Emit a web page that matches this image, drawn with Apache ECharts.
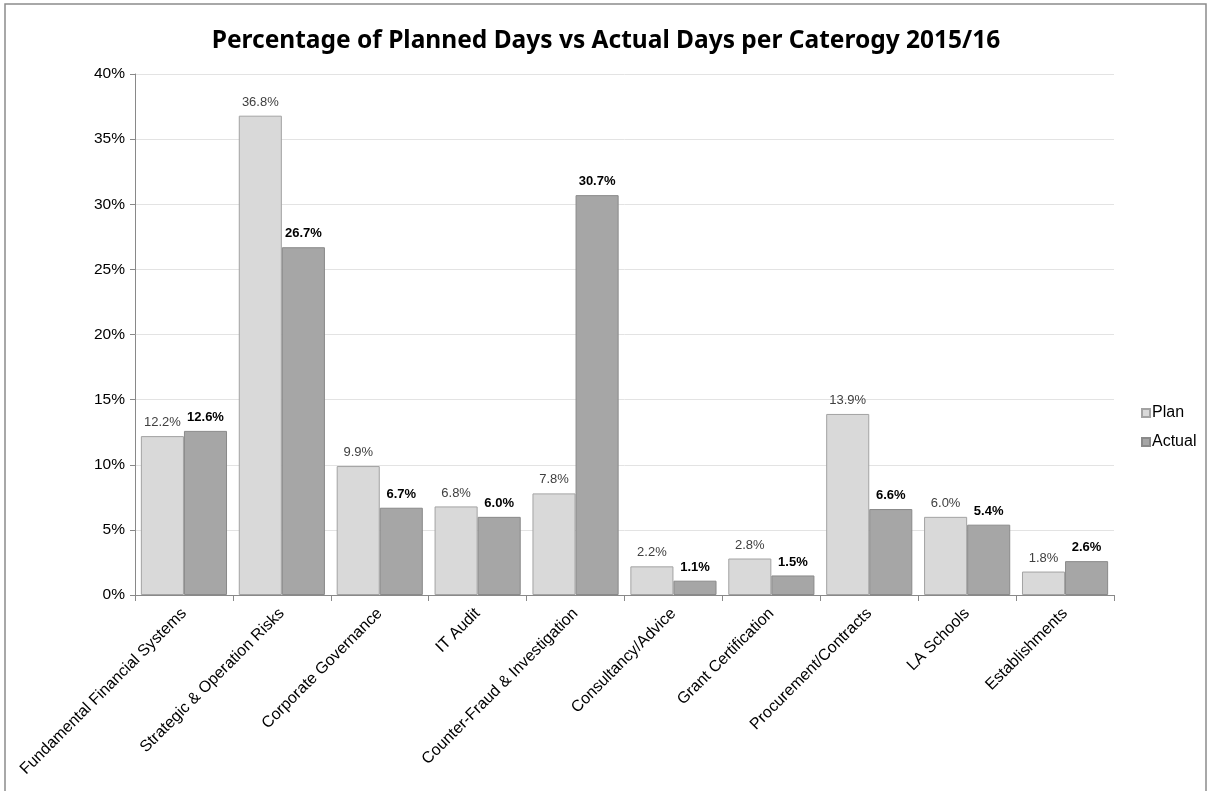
<!DOCTYPE html>
<html>
<head>
<meta charset="utf-8">
<script src="https://cdn.jsdelivr.net/npm/echarts@6/dist/echarts.min.js"></script>
<style>
  html, body { margin: 0; padding: 0; background: #fff; }
  #chartDiv { width: 1212px; height: 791px; }
</style>
</head>
<body>
<div id="chartDiv"></div>
<script type="text/javascript">
  // categories and values
  var categories = [
    "Fundamental Financial Systems",
    "Strategic & Operation Risks",
    "Corporate Governance",
    "IT Audit",
    "Counter-Fraud & Investigation",
    "Consultancy/Advice",
    "Grant Certification",
    "Procurement/Contracts",
    "LA Schools",
    "Establishments"
  ];
  var planValues = [12.2, 36.8, 9.9, 6.8, 7.8, 2.2, 2.8, 13.9, 6.0, 1.8];
  var actualValues = [12.6, 26.7, 6.7, 6.0, 30.7, 1.1, 1.5, 6.6, 5.4, 2.6];
  var seriesNames = ["Plan", "Actual"];

  var myChart = echarts.init(document.getElementById('chartDiv'), null, { renderer: 'canvas' });

  var option = {
    animation: false,
    title: {
      text: "Percentage of Planned Days vs Actual Days per Caterogy 2015/16",
      left: 'center',
      top: 24,
      textStyle: {
        fontFamily: 'Noto Sans',
        fontWeight: 'bold',
        fontSize: 24.5,
        color: '#000'
      }
    },
    legend: {
      orient: 'vertical',
      left: 1141,
      top: 405,
      padding: 0,
      itemWidth: 8,
      itemHeight: 8,
      itemGap: 13,
      icon: 'rect',
      data: seriesNames,
      textStyle: {
        fontFamily: 'Liberation Sans',
        fontSize: 16,
        color: '#000',
        padding: [0, 0, 0, -3]
      }
    },
    grid: {
      left: 135,
      right: 98,
      top: 74,
      bottom: 196,
      containLabel: false
    },
    xAxis: {
      type: 'category',
      data: categories,
      axisLine: { lineStyle: { color: '#898989', width: 1 } },
      axisTick: { show: true, length: 6, lineStyle: { color: '#898989' } },
      axisLabel: {
        rotate: 45,
        interval: 0,
        margin: 16,
        fontFamily: 'Liberation Sans',
        fontSize: 16,
        color: '#000'
      }
    },
    yAxis: {
      type: 'value',
      min: 0,
      max: 40,
      interval: 5,
      axisLine: { show: true, lineStyle: { color: '#898989' } },
      axisTick: { show: true, length: 5, lineStyle: { color: '#898989' } },
      splitLine: { lineStyle: { color: '#e3e3e3' } },
      axisLabel: {
        formatter: '{value}%',
        margin: 10,
        fontFamily: 'Liberation Sans',
        fontSize: 15.5,
        color: '#000'
      }
    },
    series: [
      {
        name: seriesNames[0],
        type: 'bar',
        data: planValues,
        barGap: '0%',
        barCategoryGap: '12%',
        itemStyle: { color: '#d9d9d9', borderColor: '#a3a3a3', borderWidth: 1 },
        label: {
          show: true,
          position: 'top',
          distance: 7,
          formatter: function (p) { return p.value.toFixed(1) + '%'; },
          fontFamily: 'Liberation Sans',
          fontSize: 13,
          color: '#404040'
        }
      },
      {
        name: seriesNames[1],
        type: 'bar',
        data: actualValues,
        itemStyle: { color: '#a6a6a6', borderColor: '#8a8a8a', borderWidth: 1 },
        label: {
          show: true,
          position: 'top',
          distance: 7,
          formatter: function (p) { return p.value.toFixed(1) + '%'; },
          fontFamily: 'Liberation Sans',
          fontSize: 13,
          fontWeight: 'bold',
          color: '#000'
        }
      }
    ],
    graphic: {
      elements: [
        {
          type: 'rect',
          shape: { x: 5, y: 4, width: 1201, height: 800 },
          style: { fill: 'none', stroke: '#8c8c8c', lineWidth: 1.5 },
          silent: true
        }
      ]
    }
  };

  myChart.setOption(option);
</script>
</body>
</html>
